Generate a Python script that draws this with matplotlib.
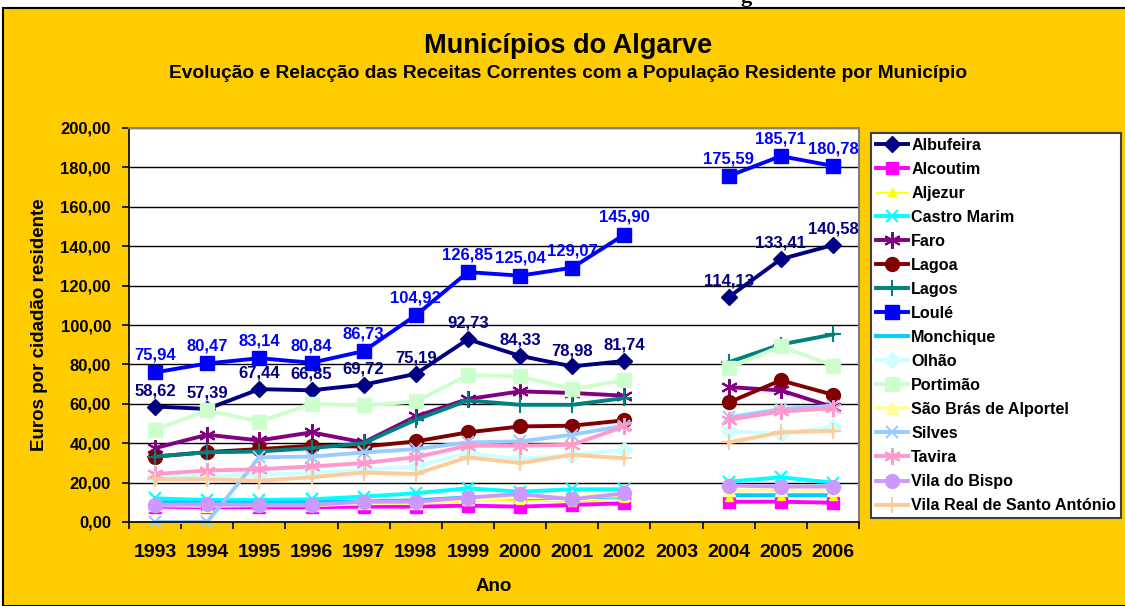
import numpy as np
import matplotlib
matplotlib.use("Agg")
import matplotlib.pyplot as plt
from matplotlib.patches import Rectangle
from matplotlib.ticker import FuncFormatter, FixedLocator

nan = np.nan

years = ['1993', '1994', '1995', '1996', '1997', '1998', '1999',
         '2000', '2001', '2002', '2003', '2004', '2005', '2006']

albufeira = [58.62, 57.39, 67.44, 66.85, 69.72, 75.19, 92.73, 84.33, 78.98, 81.74, nan, 114.13, 133.41, 140.58]
alcoutim = [7.8, 7.5, 7.5, 7.5, 7.8, 7.8, 8.3, 7.8, 8.7, 9.5, nan, 10.3, 10.3, 9.8]
aljezur = [8.0, 7.8, 8.0, 8.2, 9.0, 9.0, 10.5, 11.0, 10.0, 12.0, nan, 12.8, 13.0, 13.0]
castro_marim = [12.0, 11.2, 11.2, 11.5, 12.9, 14.6, 17.1, 15.4, 16.6, 16.6, nan, 20.5, 22.7, 20.0]
faro = [37.5, 44.3, 41.4, 45.5, 40.4, 53.6, 62.4, 66.3, 65.5, 64.1, nan, 68.5, 66.8, 58.4]
lagoa = [33.2, 35.5, 37.0, 38.7, 38.3, 40.9, 45.5, 48.5, 48.9, 51.6, nan, 60.7, 71.9, 64.6]
lagos = [33.2, 35.4, 35.8, 37.5, 40.0, 51.9, 61.7, 59.5, 59.5, 62.9, nan, 81.1, 90.1, 95.2]
loule = [75.94, 80.47, 83.14, 80.84, 86.73, 104.92, 126.85, 125.04, 129.07, 145.90, nan, 175.59, 185.71, 180.78]
monchique = [10.0, 9.8, 9.8, 10.0, 10.5, 11.0, 12.5, 12.0, 12.5, 13.0, nan, 13.6, 13.6, 13.6]
olhao = [23.1, 23.4, 23.9, 24.8, 26.5, 28.2, 35.0, 31.9, 34.1, 36.6, nan, 46.0, 44.8, 48.2]
portimao = [46.8, 56.6, 51.0, 60.0, 59.2, 61.2, 74.6, 73.9, 67.5, 71.9, nan, 78.2, 89.2, 79.4]
sao_bras = [8.5, 8.3, 8.5, 8.5, 9.5, 9.8, 11.5, 12.5, 13.0, 13.5, nan, 16.0, 16.2, 16.2]
silves = [0.0, 0.0, 32.9, 33.2, 35.3, 37.0, 40.4, 40.9, 44.3, 48.9, nan, 53.1, 57.3, 59.0]
tavira = [24.4, 26.1, 26.8, 28.2, 29.9, 32.9, 38.7, 38.7, 39.2, 48.5, nan, 51.9, 56.1, 57.7]
vila_do_bispo = [8.7, 8.9, 8.7, 8.7, 10.3, 10.3, 12.4, 14.2, 11.5, 14.6, nan, 18.5, 18.0, 18.0]
vila_real = [21.7, 21.7, 21.0, 22.7, 25.1, 24.4, 32.9, 29.9, 34.1, 32.4, nan, 40.4, 45.5, 46.3]

names = ['Albufeira', 'Alcoutim', 'Aljezur', 'Castro Marim', 'Faro', 'Lagoa', 'Lagos', 'Loulé',
         'Monchique', 'Olhão', 'Portimão', 'São Brás de Alportel', 'Silves', 'Tavira',
         'Vila do Bispo', 'Vila Real de Santo António']
series = [albufeira, alcoutim, aljezur, castro_marim, faro, lagoa, lagos, loule,
          monchique, olhao, portimao, sao_bras, silves, tavira, vila_do_bispo, vila_real]

asterisk = (6, 2, 0)
# colour, marker, markersize, linewidth
styles = [
    ('#000080', 'D', 8, 2.8),
    ('#FF00FF', 's', 9, 2.8),
    ('#FFFF00', '^', 6, 1.0),
    ('#00FFFF', 'x', 9, 2.8),
    ('#800080', asterisk, 12, 2.8),
    ('#800000', 'o', 10, 2.8),
    ('#008080', '+', 11, 2.8),
    ('#0000FF', 's', 10, 2.8),
    ('#00CCFF', None, 0, 2.8),
    ('#CCFFFF', 'D', 8, 2.8),
    ('#CCFFCC', 's', 10, 2.8),
    ('#FFFF99', '^', 8, 2.8),
    ('#99CCFF', 'x', 9, 2.8),
    ('#FF99CC', asterisk, 12, 2.8),
    ('#CC99FF', 'o', 10, 2.8),
    ('#FFCC99', '+', 11, 2.8),
]


def comma(v, pos=None):
    return f"{v:.2f}".replace('.', ',')


def main():
    plt.rcParams['font.family'] = ['Liberation Sans', 'DejaVu Sans']
    fig = plt.figure(figsize=(11.25, 6.06), dpi=100)
    fig.patch.set_facecolor('white')

    # yellow chart area with black frame
    fig.patches.append(Rectangle((3 / 1125, 0), 1.2, 1 - 8 / 606, transform=fig.transFigure,
                                 facecolor='#FFCC00', edgecolor='black', lw=1.5, zorder=-10))
    fig.text(0.663, 1.005, 'g', ha='center', va='center', fontsize=16, family='Liberation Serif',
             weight='bold')

    fig.text(0.505, 1 - 46 / 606, 'Municípios do Algarve', ha='center', va='center',
             fontsize=19.5, weight='bold')
    fig.text(0.505, 1 - 73 / 606,
             'Evolução e Relacção das Receitas Correntes com a População Residente por Município',
             ha='center', va='center', fontsize=13.8, weight='bold')

    ax = fig.add_axes([129 / 1125, 1 - 522 / 606, 730 / 1125, 394 / 606])
    ax.set_facecolor('white')
    x = np.arange(len(years))

    handles = []
    for name, vals, (col, mk, ms, lw) in zip(names, series, styles):
        mew = 1.5 if mk in ('x', '+', asterisk) else 1.0
        h, = ax.plot(x, vals, color=col, lw=lw, marker=mk, ms=ms, mew=mew,
                     mec=col, mfc=col, label=name, clip_on=False)
        handles.append(h)

    for xi, v in zip(x, loule):
        if not np.isnan(v):
            ax.annotate(comma(v), (xi, v), xytext=(0, 7), textcoords='offset points',
                        ha='center', va='bottom', color='#0000FF', fontsize=12, weight='bold')
    for xi, v in zip(x, albufeira):
        if not np.isnan(v):
            ax.annotate(comma(v), (xi, v), xytext=(0, 6), textcoords='offset points',
                        ha='center', va='bottom', color='#000080', fontsize=12, weight='bold')

    ax.set_xlim(-0.5, len(years) - 0.5)
    ax.set_ylim(0, 200)
    ax.set_yticks(np.arange(0, 201, 20))
    ax.yaxis.set_major_formatter(FuncFormatter(comma))
    ax.grid(axis='y', color='black', lw=1.0)
    ax.set_axisbelow(True)

    ax.set_xticks(x)
    ax.set_xticklabels(years)
    ax.xaxis.set_minor_locator(FixedLocator(np.arange(-0.5, len(years), 1.0)))
    ax.tick_params(axis='x', which='major', length=0, pad=16, labelsize=14)
    ax.tick_params(axis='x', which='minor', length=5, width=1.2, direction='out')
    ax.tick_params(axis='y', length=5, width=1.2, labelsize=12, pad=8)
    for lab in ax.get_xticklabels() + ax.get_yticklabels():
        lab.set_fontweight('bold')

    for side in ('top', 'right'):
        ax.spines[side].set_color('#808080')
        ax.spines[side].set_linewidth(1.5)
    for side in ('left', 'bottom'):
        ax.spines[side].set_color('black')
        ax.spines[side].set_linewidth(1.2)

    ax.set_xlabel('Ano', fontsize=13.5, weight='bold', labelpad=12)
    ax.set_ylabel('Euros por cidadão residente', fontsize=13.5, weight='bold', labelpad=9)

    leg = fig.legend(handles=handles, loc='upper left',
                     bbox_to_anchor=(871 / 1125, 1 - 133 / 606),
                     frameon=True, fancybox=False, edgecolor='#404040', facecolor='white',
                     framealpha=1.0, fontsize=11.6, handlelength=2.0, handletextpad=0.2,
                     labelspacing=0.56, borderpad=0.3, borderaxespad=0)
    for t in leg.get_texts():
        t.set_fontweight('bold')
    leg.get_frame().set_linewidth(1.5)

    fig.savefig('out.png', dpi=100)


if __name__ == "__main__":
    main()
